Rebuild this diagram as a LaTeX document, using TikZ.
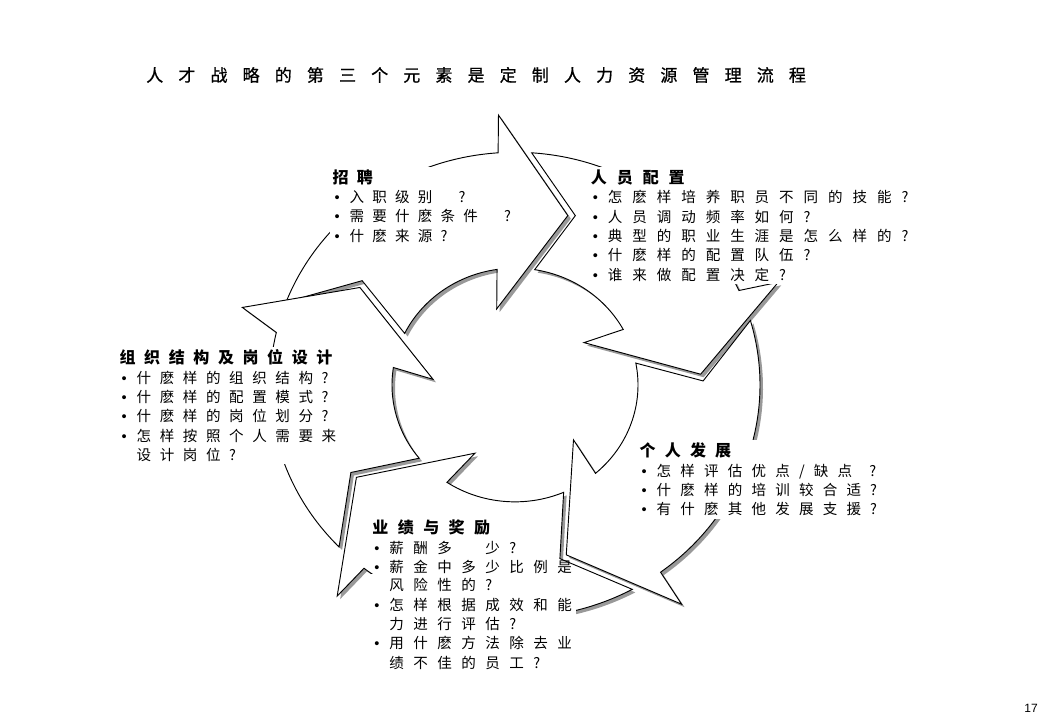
\documentclass[tikz,border=0pt]{standalone}
\usepackage{fontspec}
\setmainfont{Liberation Sans}
\newfontfamily\cjk{Noto Sans CJK SC}
\newfontfamily\cjktitle[FakeBold=0.8]{Noto Sans CJK SC}

\tikzset{
  cycarrow/.style={draw=black, fill=white, line width=0.7pt, line join=miter},
  cycshadow/.style={fill=black!40, draw=none, shift={(3,-3.2)}},
  textblock/.style={fill=white, inner sep=2pt, align=left, anchor=north west,
    font={\cjk\fontsize{10.9}{14.5}\selectfont\spaceskip=#1\relax}},
  textblock/.default=6.8pt,
  titletext/.style={anchor=west, inner sep=0pt,
    font={\cjktitle\fontsize{12.75}{15}\selectfont\spaceskip=11.35pt\relax}},
  pagenum/.style={inner sep=0pt, font=\fontsize{9}{10}\selectfont}
}

\newcommand\itm{\makebox[12.75pt][l]{\hspace{1.5pt}\rmfamily •}}
\newcommand\contline{\hspace*{12.75pt}}
\newcommand\hd[1]{{\bfseries\fontsize{12}{14.5}\selectfont #1}}
% 一个弯箭头: #1 = 前一个箭头的角度, #2 = 本箭头的角度, #3 = 外侧尖角的偏转
\newcommand\cycpath[3]{(#1+86.6:245) arc[start angle=#1+86.6, end angle=#2+94.45, radius=245]
  -- (#2+#3+93.83:284.6) -- (#2+74:186) -- (#2+103.36:82.2)
  -- (#2+98.89:123) arc[start angle=#2+98.89, end angle=#1+81.3, radius=123]
  -- (#1+71.8:188.2) -- cycle}

\begin{document}
\begin{tikzpicture}[x=0.75pt, y=0.75pt]
\useasboundingbox (0,0) rectangle (1039,-720);

% 标题
\node[titletext] (title) at (146,-75) {人 才 战 略 的 第 三 个 元 素 是 定 制 人 力 资 源 管 理 流 程};

\begin{scope}[shift={(515,-385)}, yscale=0.95]
% 阴影
\path[cycshadow] \cycpath{72.5}{-0.5}{0};
\path[cycshadow] \cycpath{-0.5}{-70.5}{-1};
\path[cycshadow] \cycpath{-70.5}{-148}{0};
\path[cycshadow] \cycpath{-148}{-222.5}{0};
\path[cycshadow] \cycpath{-222.5}{-287.5}{-3};

% 五个箭头
\path[cycarrow] \cycpath{72.5}{-0.5}{0};      % 招聘
\path[cycarrow] \cycpath{-0.5}{-70.5}{-1};    % 人员配置
\path[cycarrow] \cycpath{-70.5}{-148}{0};     % 个人发展
\path[cycarrow] \cycpath{-148}{-222.5}{0};    % 业绩与奖励
\path[cycarrow] \cycpath{-222.5}{-287.5}{-3}; % 组织结构及岗位设计
\end{scope}

% ========== 文字 ==========
\node[textblock=6.15pt] (recruit) at (329.7,-166.5) {\hd{招 聘}\\
\itm 入 职 级 别 \hspace{13.5pt}?\\
\itm 需 要 什 麽 条 件 \hspace{13.5pt}?\\
\itm 什 麽 来 源 ?};

\node[textblock=7.45pt] (staffing) at (588,-167) {\hd{人 员 配 置}\\
\itm 怎 麽 样 培 养 职 员 不 同 的 技 能 ?\\
\itm 人 员 调 动 频 率 如 何 ?\\
\itm 典 型 的 职 业 生 涯 是 怎 么 样 的 ?\\
\itm 什 麽 样 的 配 置 队 伍 ?\\
\itm 谁 来 做 配 置 决 定 ?};

\node[textblock=6.45pt] (orgdesign) at (116.7,-347) {\hd{组 织 结 构 及 岗 位 设 计}\\
\itm 什 麽 样 的 组 织 结 构 ?\\
\itm 什 麽 样 的 配 置 模 式 ?\\
\itm 什 麽 样 的 岗 位 划 分 ?\\
\itm 怎 样 按 照 个 人 需 要 来\\
\contline 设 计 岗 位 ?};

\node[textblock=6.9pt] (develop) at (636.7,-440) {\hd{个 人 发 展}\\
\itm 怎 样 评 估 优 点 / 缺 点 \hspace{6pt}?\\
\itm 什 麽 样 的 培 训 较 合 适 ?\\
\itm 有 什 麽 其 他 发 展 支 援 ?};

% 业绩与奖励: 上半不盖线, 下半盖住外弧
\node[textblock=7.1pt, fill=none] (reward) at (369.4,-517) {\hd{业 绩 与 奖 励}\\
\itm 薪 酬 多 　 少 ?\\
\itm 薪 金 中 多 少 比 例 是};
\node[textblock=7.1pt, inner sep=3pt] (rewardmore) at (368,-574.2) {\contline 风 险 性 的 ?\\
\itm 怎 样 根 据 成 效 和 能\\
\contline 力 进 行 评 估 ?\\
\itm 用 什 麽 方 法 除 去 业\\
\contline 绩 不 佳 的 员 工 ?};

% 页码
\node[pagenum] (page) at (1031,-708) {17};
\end{tikzpicture}
\end{document}
